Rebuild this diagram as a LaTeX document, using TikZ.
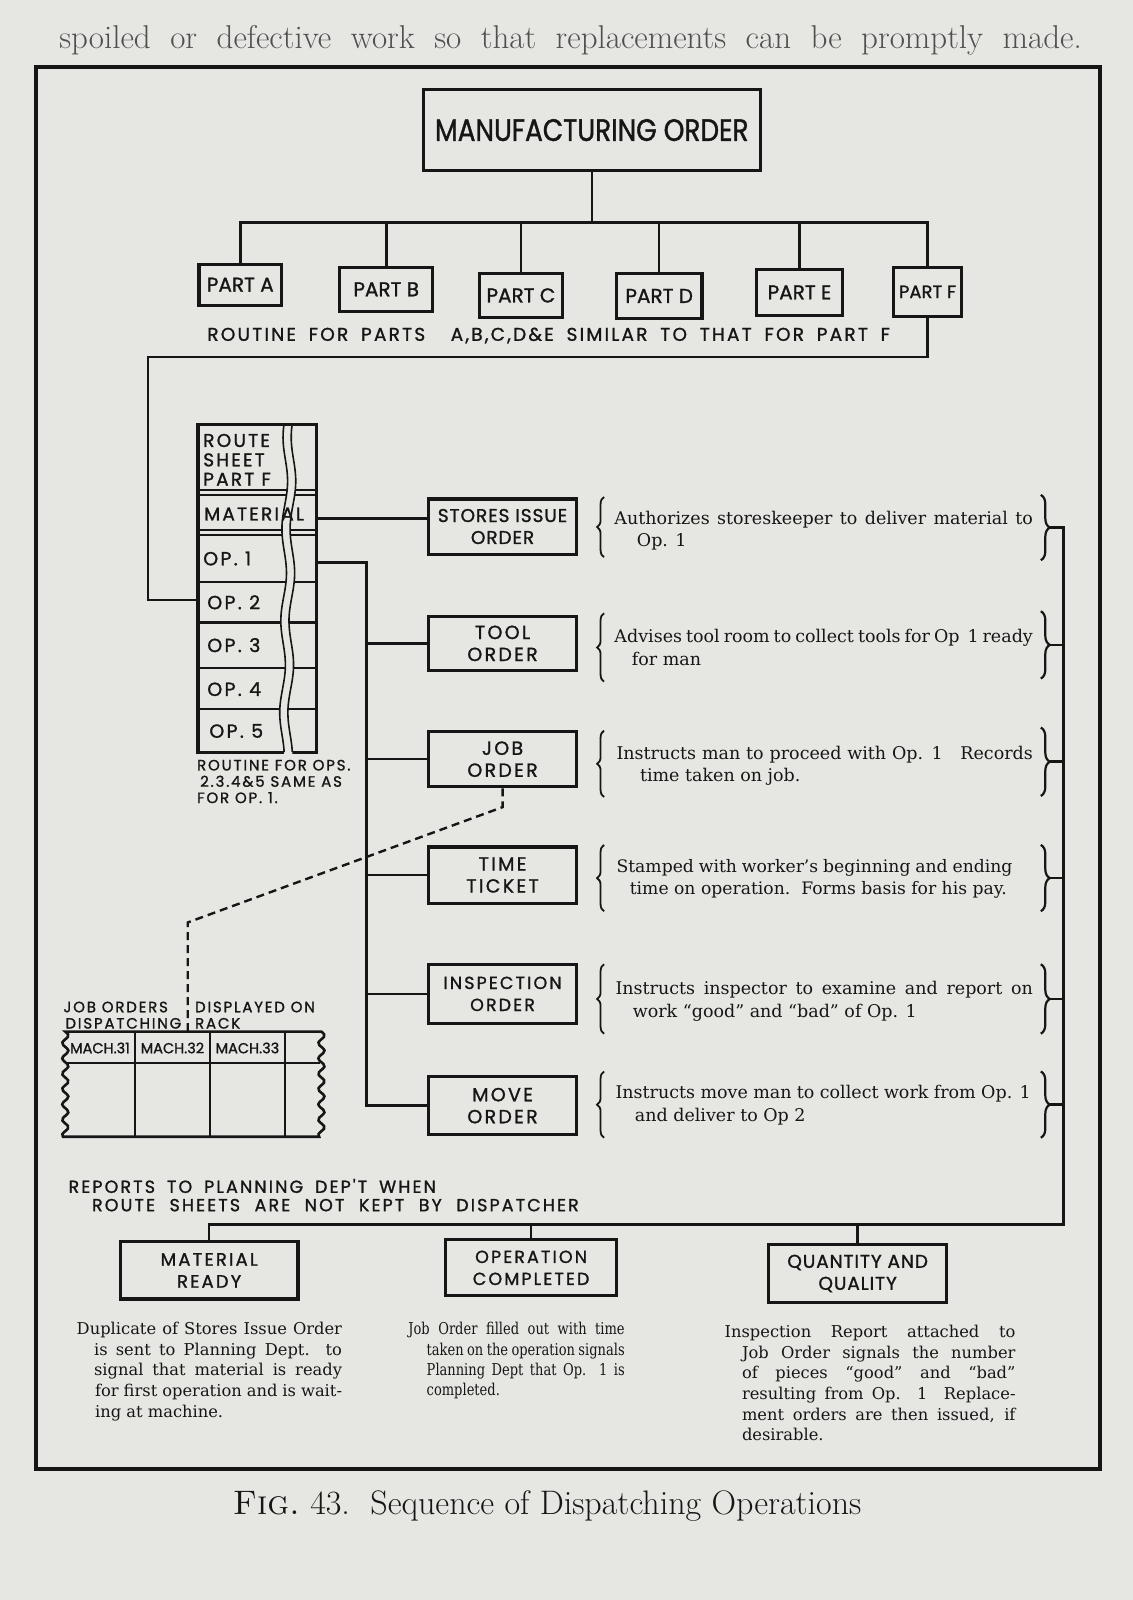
\documentclass[tikz,border=0pt]{standalone}
\usepackage{fontspec}
\usetikzlibrary{decorations.pathreplacing}
\newfontfamily\letr[FakeStretch=0.85,FakeBold=1.2]{Poppins}
\newfontfamily\letn[FakeBold=1.2]{Poppins}
\newfontfamily\letw[FakeBold=1.2,LetterSpace=5]{Poppins}
\newfontfamily\lets[FakeBold=1.2,LetterSpace=12]{Poppins}
\newfontfamily\dsc{DejaVu Serif}
\newfontfamily\dscn[FakeStretch=0.8]{DejaVu Serif}
\definecolor{paper}{HTML}{E6E6E3}
\definecolor{ink}{HTML}{161616}
\newlength\unt \setlength\unt{1.0207pt}
\newcommand\jline[2]{\hbox{\makebox[#1\unt][s]{#2}}}
\newcommand\fline[2]{\hbox{\hspace{#1\unt}#2}}
\newcommand\iline[3]{\hbox{\hspace{#1\unt}\makebox[#2\unt][s]{#3}}}
\begin{document}
\begin{tikzpicture}[x=1.0207pt,y=-1.0207pt,
  box/.style={draw=ink,line width=3.1pt,inner sep=0pt,align=center,text=ink},
  wh/.style 2 args={minimum width=#1*1.0207pt,minimum height=#2*1.0207pt},
  conn/.style={draw=ink,line width=2.6pt},
  dashln/.style={draw=ink,line width=2.4pt,dash pattern=on 8pt off 5pt},
  lbl/.style={inner sep=0pt,text=ink,anchor=base west},
  desc/.style={inner sep=0pt,text=ink,anchor=base west,font=\dsc\fontsize{17.5}{22.4}\selectfont},
  bdesc/.style={inner sep=0pt,text=ink,anchor=base west,font=\dsc\fontsize{16.3}{20.6}\selectfont},
  brR/.style={draw=ink,line width=2.2pt,decorate,decoration={brace,amplitude=9pt}},
  brL/.style={draw=ink,line width=1.8pt,decorate,decoration={brace,amplitude=7pt}},
  mol/.style={font=\letr\fontsize{31}{34}\selectfont},
  ptl/.style={font=\letn\fontsize{20}{22}\selectfont},
  bxl/.style={font=\lets\fontsize{19}{22}\selectfont},
  rsl/.style={lbl,font=\lets\fontsize{18.5}{18}\selectfont},
  opl/.style={lbl,font=\lets\fontsize{19}{20}\selectfont},
  sml/.style={lbl,font=\lets\fontsize{15}{16}\selectfont},
]
\fill[paper] (0,0) rectangle (1110,1568);
\useasboundingbox (0,0) rectangle (1110,1568);
% page text above figure
\node[lbl,text=ink!75,font=\fontsize{33}{36}\selectfont] (pagetext) at (58,48) {\makebox[1002\unt][s]{spoiled or defective work so that replacements can be promptly made.}};
% frame
\draw[ink,line width=4pt] (35,66) rectangle (1078,1440);
% top tree
\node[box,wh={330}{79},mol] (mo) at (580,127.5) {MANUFACTURING ORDER};
\node[box,wh={81}{40},ptl] (pa) at (235.5,279) {PART A};
\node[box,wh={91}{43},ptl] (pb) at (378.5,283.5) {PART B};
\node[box,wh={81}{43},ptl] (pc) at (510.5,289.5) {PART C};
\node[box,wh={84}{44},ptl] (pd) at (646,290) {PART D};
\node[box,wh={85}{45},ptl] (pe) at (783.5,286.5) {PART E};
\node[box,wh={67}{48},font=\letn\fontsize{18}{22}\selectfont] (pf) at (909,286) {PART F};
\coordinate (bus) at (580,218);
\draw[conn] (mo.south) -- (bus);
\draw[conn] (pa.north) -- (pa.north |- bus) -- (pf.north |- bus) -- (pf.north);
\foreach \p in {pb,pc,pd,pe} \draw[conn] (\p.north) -- (\p.north |- bus);
\node[lbl,font=\lets\fontsize{18.5}{20}\selectfont] (routparts) at (203,334) {\makebox[669\unt][s]{ROUTINE FOR PARTS \ A,B,C,D\&E SIMILAR TO THAT FOR PART F}};
% route sheet
\node[box,wh={116}{321}] (rs) at (252,576.5) {};
\foreach \yy in {480,485,519,524,570,610,655,695} \draw[ink,line width=2.2pt] (194,\yy) -- (310,\yy);
\fill[paper] plot[domain=418:741,samples=50,smooth] ({280+2.5*sin(4*\x)-0.012*(\x-417)},\x) -- plot[domain=741:418,samples=50,smooth] ({288+2.5*sin(4*\x)-0.012*(\x-417)},\x) -- cycle;
\draw[ink,line width=1.6pt] plot[domain=416:737,samples=50,smooth] ({280+2.5*sin(4*\x)-0.012*(\x-417)},\x);
\draw[ink,line width=1.6pt] plot[domain=416:737,samples=50,smooth] ({288+2.5*sin(4*\x)-0.012*(\x-417)},\x);
\node[rsl] (rsa) at (199,438) {ROUTE};
\node[rsl] (rsb) at (199,457) {SHEET};
\node[rsl] (rsc) at (199,476) {PART F};
\node[rsl] (rmat) at (200,510) {MATERIAL};
\node[opl] (o1) at (199,554) {OP. 1};
\node[opl] (o2) at (203,597) {OP. 2};
\node[opl] (o3) at (203,639) {OP. 3};
\node[opl] (o4) at (203,682) {OP. 4};
\node[opl] (o5) at (205,723) {OP. 5};
\node[sml] (ro1) at (193,755) {ROUTINE FOR OPS.};
\node[sml] (ro2) at (196,771) {2.3.4\&5 SAME AS};
\node[sml] (ro3) at (193,787) {FOR OP. 1.};
% part F to route sheet
\coordinate (pk1) at (145,350);
\coordinate (pk2) at (145,588);
\draw[conn] (pf.south) -- (pf.south |- pk1) -- (pk1) -- (pk2) -- (rs.west |- pk2);
% order boxes
\node[box,wh={145}{54},font=\letw\fontsize{18.5}{22}\selectfont] (sio) at (492.5,516) {STORES ISSUE\\ORDER};
\node[box,wh={145}{53},bxl] (tor) at (492.5,630.5) {TOOL\\ORDER};
\node[box,wh={145}{54},bxl] (job) at (492.5,744) {JOB\\ORDER};
\node[box,wh={145}{55},bxl] (tt) at (492.5,857.5) {TIME\\TICKET};
\node[box,wh={145}{58},font=\lets\fontsize{17.5}{22}\selectfont] (io) at (492.5,974) {INSPECTION\\ORDER};
\node[box,wh={145}{57},bxl] (mv) at (492.5,1083.5) {MOVE\\ORDER};
\coordinate (ymat) at (0,508);
\draw[conn] (rs.east |- ymat) -- (sio.west |- ymat);
\coordinate (sp) at (359,551);
\draw[conn] (rs.east |- sp) -- (sp) -- (sp |- mv.west) -- (mv.west);
\foreach \b in {tor,job,tt,io} \draw[conn] (sp |- \b.west) -- (\b.west);
% rack
\node[inner sep=0pt,wh={253}{103}] (rack) at (189.5,1062.5) {};
\draw[ink,line width=2.6pt] plot[domain=1011:1114,samples=40,smooth] ({64+3*sin(24*(\x-1011))},\x) -- plot[domain=1114:1011,samples=40,smooth] ({315+3*sin(24*(\x-1011))},\x) -- cycle;
\draw[ink,line width=2.2pt] (132,1011) -- (132,1114) (206,1011) -- (206,1114) (279,1011) -- (279,1114) (65,1042) -- (314,1042);
\node[inner sep=0pt,text=ink,font=\letn\fontsize{14.5}{16}\selectfont] (m31) at (98,1027) {MACH.31};
\node[inner sep=0pt,text=ink,font=\letn\fontsize{14.5}{16}\selectfont] (m32) at (169,1027) {MACH.32};
\node[inner sep=0pt,text=ink,font=\letn\fontsize{14.5}{16}\selectfont] (m33) at (242.5,1027) {MACH.33};
\node[sml] (jo1) at (62,992) {JOB ORDERS};
\node[sml] (jo2) at (64,1008) {DISPATCHING};
\node[sml] (jo3) at (191,992) {DISPLAYED ON};
\node[sml] (jo4) at (191,1008) {RACK};
\coordinate (d1) at (490,791);
\coordinate (d2) at (184,904);
\draw[dashln] (job.south) -- (job.south |- d1) -- (d2) -- (d2 |- rack.north);
% right descriptions
\node[desc] (dsio) at (602,514) {\vtop{\jline{410}{Authorizes storeskeeper to deliver material to}\fline{22}{Op. 1}}};
\node[desc] (dtor) at (602,630) {\vtop{\jline{410}{Advises tool room to collect tools for Op \ 1 ready}\fline{17}{for man}}};
\node[desc] (djob) at (604,744) {\vtop{\jline{408}{Instructs man to proceed with Op. 1 \ \ Records}\fline{23}{time taken on job.}}};
\node[desc,font=\dsc\fontsize{17.2}{22.4}\selectfont] (dtt) at (604,855) {\vtop{\jline{388}{Stamped with worker’s beginning and ending}\fline{13}{time on operation.\ \ Forms basis for his pay.}}};
\node[desc] (dio) at (603,975) {\vtop{\jline{409}{Instructs inspector to examine and report on}\fline{17}{work “good” and “bad” of Op. 1}}};
\node[desc] (dmv) at (603,1077) {\vtop{\jline{407}{Instructs move man to collect work from Op. 1}\fline{19}{and deliver to Op 2}}};
\foreach \t/\b in {487/546,601/668,716/781,828/893,945/1013,1050/1115} \draw[brL] (592,\b) -- (592,\t);
\foreach \t/\b/\n in {485/549/1,599/665/2,713/780/3,828/893/4,945/1013/5,1050/1115/6} {
  \draw[brR] (1020,\t) -- (1020,\b);
  \coordinate (tip\n) at (1029,{(\t+\b)/2});
}
\coordinate (rc) at (1042,1200);
% bottom reports
\node[lbl,font=\lets\fontsize{17.5}{18}\selectfont] (rep1) at (67,1169) {\makebox[360\unt][s]{REPORTS TO PLANNING DEP'T WHEN}};
\node[lbl,font=\lets\fontsize{17.5}{18}\selectfont] (rep2) at (90,1187) {\makebox[477\unt][s]{ROUTE SHEETS ARE NOT KEPT BY DISPATCHER}};
\node[box,wh={174}{56},font=\lets\fontsize{18}{22}\selectfont] (mr) at (205,1245) {MATERIAL\\READY};
\node[box,wh={167}{55},font=\lets\fontsize{17.5}{22}\selectfont] (oc) at (520.5,1242.5) {OPERATION\\COMPLETED};
\node[box,wh={175}{56},font=\letw\fontsize{18.5}{22}\selectfont] (qq) at (840.5,1248) {QUANTITY AND\\QUALITY};
\draw[conn] (tip1) -- (tip1 -| rc) -- (rc) -- (mr.north |- rc) -- (mr.north);
\foreach \n in {2,...,6} \draw[conn] (tip\n) -- (tip\n -| rc);
\draw[conn] (oc.north |- rc) -- (oc.north);
\draw[conn] (qq.north |- rc) -- (qq.north);
% bottom descriptions
\node[bdesc] (dmr) at (75,1308) {\vtop{\jline{260}{Duplicate of Stores Issue Order}\iline{17}{243}{is sent to Planning Dept. to}\iline{17}{243}{signal that material is ready}\iline{18}{242}{for first operation and is wait-}\fline{18}{ing at machine.}}};
\node[bdesc,font=\dscn\fontsize{16.3}{20.4}\selectfont] (doc) at (400,1308) {\vtop{\jline{212}{Job Order filled out with time}\iline{18}{194}{taken on the operation signals}\iline{18}{194}{Planning Dept that Op. 1 is}\fline{18}{completed.}}};
\node[bdesc] (dqq) at (710,1311) {\vtop{\jline{285}{Inspection Report attached to}\iline{17}{268}{Job Order signals the number}\iline{17}{268}{of pieces “good” and “bad”}\iline{17}{268}{resulting from Op. 1 \ Replace-}\iline{17}{268}{ment orders are then issued, if}\fline{17}{desirable.}}};
% caption
\node[lbl,font=\fontsize{34}{36}\selectfont] (cap) at (228,1484) {\textsc{Fig.}\ 43.\ \ Sequence of Dispatching Operations};
\end{tikzpicture}
\end{document}
